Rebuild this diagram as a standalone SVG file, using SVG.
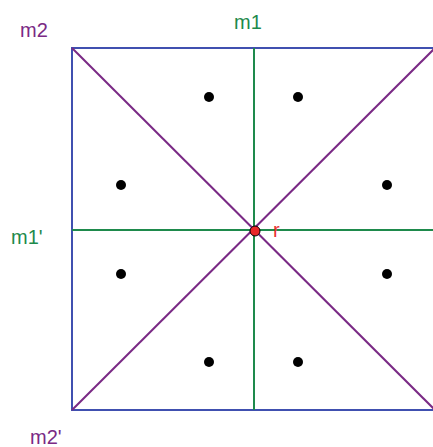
<svg xmlns="http://www.w3.org/2000/svg" width="433" height="447" viewBox="0 0 433 447">
<style>
.sq{fill:none;stroke:#4050b0;stroke-width:2}
.diag{stroke:#7a2a85;stroke-width:2}
.mir{stroke:#1e8a4c;stroke-width:2}
.dot{fill:#000}
.lp{font-family:"Liberation Sans",Arial,sans-serif;font-size:20px;fill:#7a2a85}
.lg{font-family:"Liberation Sans",Arial,sans-serif;font-size:20px;fill:#1e8a4c}
.lr{font-family:"Liberation Sans",Arial,sans-serif;font-size:20px;fill:#e83030}
</style>
<rect width="433" height="447" fill="#fff"/>
<g id="connectors">
<rect class="sq" x="72" y="48" width="363" height="362"/>
<line class="mir" x1="254" y1="48" x2="254" y2="410"/>
<line class="mir" x1="72" y1="230" x2="435" y2="230"/>
<line class="diag" x1="72" y1="48" x2="435" y2="410"/>
<line class="diag" x1="72" y1="410" x2="435" y2="48"/>
</g>
<g id="dots">
<circle class="dot" cx="209" cy="97" r="5"/>
<circle class="dot" cx="298" cy="97" r="5"/>
<circle class="dot" cx="121" cy="185" r="5"/>
<circle class="dot" cx="387" cy="185" r="5"/>
<circle class="dot" cx="121" cy="274" r="5"/>
<circle class="dot" cx="387" cy="274" r="5"/>
<circle class="dot" cx="209" cy="362" r="5"/>
<circle class="dot" cx="298" cy="362" r="5"/>
</g>
<g id="r">
<circle cx="255" cy="231" r="5" fill="#e82828" stroke="#000" stroke-width="1"/>
<text class="lr" x="273" y="237">r</text>
</g>
<g id="labels">
<text class="lp" x="20" y="37">m2</text>
<text class="lg" x="234" y="29">m1</text>
<text class="lg" x="11" y="244">m1'</text>
<text class="lp" x="30" y="444">m2'</text>
</g>
</svg>
